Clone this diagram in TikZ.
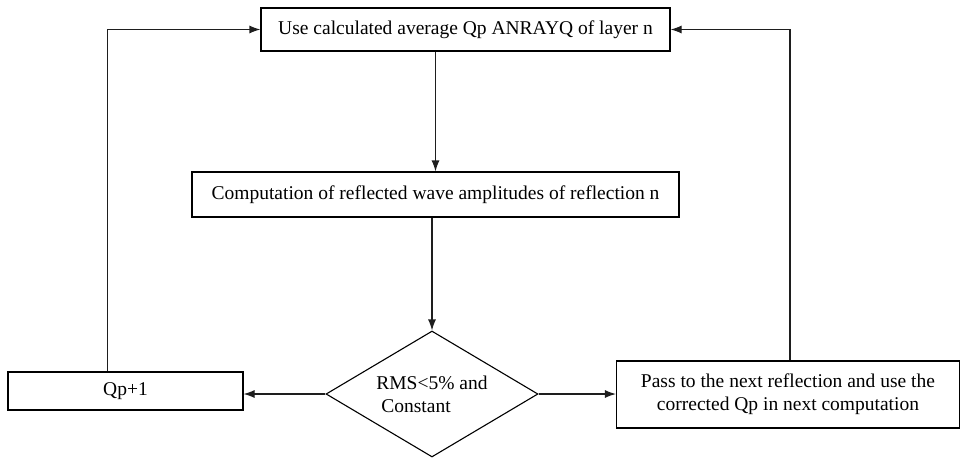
\documentclass[tikz,border=0pt]{standalone}
\usepackage{fontspec}
\setmainfont{Liberation Serif}
\usetikzlibrary{shapes.geometric,arrows.meta}

\begin{document}
\begin{tikzpicture}[x=1pt,y=-1pt,
    font=\fontsize{19.5}{23}\selectfont,
    box/.style={draw,line width=1.1pt,inner sep=0pt,align=center},
    flow/.style={line width=1.1pt,-{Latex[length=11pt,width=8pt]}}]
    % Define colors
    \definecolor{inkline}{RGB}{30,30,30}

    % Fix the page area
    \useasboundingbox (0,0) rectangle (962,460);

    % Draw boxes
    \node[box,minimum width=409pt,minimum height=43pt] (avg) at (465.5,29.5)
        {Use calculated average Qp ANRAYQ of layer n};
    \node[box,minimum width=487pt,minimum height=45pt] (comp) at (435.5,194.5)
        {Computation of reflected wave amplitudes of reflection n};
    \node[draw,diamond,aspect=1.68,inner sep=0pt,minimum width=212pt,
        minimum height=126pt,line width=1.1pt,align=left] (rms) at (432,394)
        {RMS<5\% and\\\hspace*{5pt}Constant};
    \node[box,minimum width=235pt,minimum height=38pt] (qp) at (125.5,391) {Qp+1};
    \node[box,minimum width=343pt,minimum height=67pt] (pass) at (788,394.5)
        {Pass to the next reflection and use the\\corrected Qp in next computation};

    % Draw connectors
    \draw[flow,inkline] (avg.south -| comp.north) -- (comp.north);
    \draw[flow,inkline] (comp.south -| rms.north) -- (rms.north);
    \draw[flow,inkline] (rms.west) -- (rms.west -| qp.east);
    \draw[flow,inkline] (rms.east) -- (rms.east -| pass.west);

    % Draw feedback loops
    \draw[flow,inkline] ([xshift=-18pt]qp.north) |- (avg.west);
    \draw[flow,inkline] ([xshift=2pt]pass.north) |- (avg.east);
\end{tikzpicture}
\end{document}
